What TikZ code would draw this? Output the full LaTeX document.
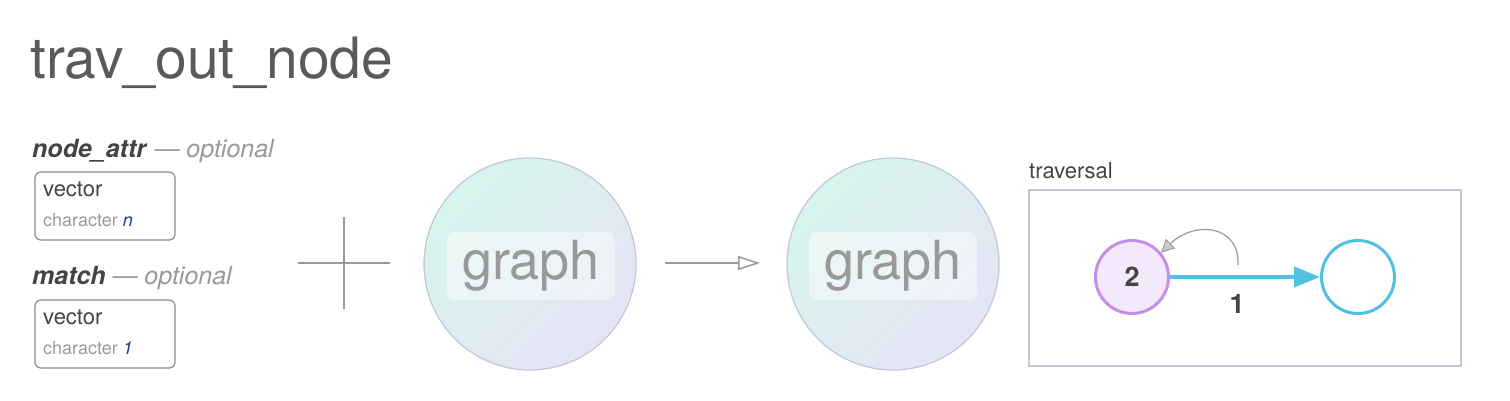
\documentclass[tikz,border=0pt]{standalone}
\usepackage{fontspec}
\setmainfont{TeX Gyre Heros}
\usetikzlibrary{arrows.meta}
\definecolor{titlec}{HTML}{5A5A5A}
\definecolor{darkc}{HTML}{444444}
\definecolor{lightc}{HTML}{999999}
\definecolor{boxc}{HTML}{8A8A8A}
\definecolor{mintc}{HTML}{D6F5EC}
\definecolor{lavc}{HTML}{E5E4F5}
\definecolor{ringc}{HTML}{C3C6D6}
\definecolor{purc}{HTML}{C38FE8}
\definecolor{purfill}{HTML}{F3E9FB}
\definecolor{cyanc}{HTML}{4FC1E2}
\definecolor{bluec}{HTML}{1B3C8C}
\tikzset{
  fs/.style={font=\fontsize{#1}{#1}\selectfont},
  typebox/.style={draw=boxc, line width=1.2pt, rounded corners=6pt, minimum width=140pt, minimum height=68pt},
  bigball/.style={circle, draw=ringc, line width=1.2pt, minimum size=212pt, top color=mintc, bottom color=lavc, shading angle=45},
  glabel/.style={fill=white, fill opacity=0.45, text opacity=1, rounded corners=8pt, minimum width=168pt, minimum height=68pt, text=lightc, fs=54},
  grayline/.style={draw=lightc, line width=1.5pt},
  boldlab/.style={text=darkc, font=\bfseries\fontsize{27}{27}\selectfont},
}
\begin{document}
\begin{tikzpicture}[x=1pt,y=-1pt]
\useasboundingbox (0,0) rectangle (1510,400);
% title
\node[anchor=base west, inner sep=0, text=titlec, fs=57] (title) at (30,78) {trav\_out\_node};
% argument 1
\node[anchor=base west, inner sep=0, fs=25] (arg1) at (32,157) {\textcolor{darkc}{\textbf{\textit{node\_attr}}} \textcolor{lightc}{\textit{--- optional}}};
\node[typebox] (box1) at (105,206) {};
\node[anchor=base west, inner sep=0, fs=22, text=darkc] (v1) at (43,196) {vector};
\node[anchor=base west, inner sep=0, fs=18, text=lightc] (c1) at (43,226) {character \textcolor{bluec}{\textit{n}}};
% argument 2
\node[anchor=base west, inner sep=0, fs=25] (arg2) at (32,284) {\textcolor{darkc}{\textbf{\textit{match}}} \textcolor{lightc}{\textit{--- optional}}};
\node[typebox] (box2) at (105,334) {};
\node[anchor=base west, inner sep=0, fs=22, text=darkc] (v2) at (43,324) {vector};
\node[anchor=base west, inner sep=0, fs=18, text=lightc] (c2) at (43,354) {character \textcolor{bluec}{\textit{1}}};
% plus
\coordinate (pl) at (298,263);
\coordinate (pr) at (390,263);
\coordinate (pt) at (344,217);
\coordinate (pb) at (344,309);
\draw[grayline] (pl) -- (pr);
\draw[grayline] (pt) -- (pb);
% graph balls
\node[bigball] (g1) at (530,264) {};
\node[glabel] (g1l) at (531,266) {graph};
\node[bigball] (g2) at (893,264) {};
\node[glabel] (g2l) at (893,266) {graph};
% arrow
\coordinate (as) at (665,263);
\coordinate (ae) at (760,263);
\draw[grayline, -{Triangle[open, length=22pt, width=14pt, line width=1.5pt]}] (as) -- (ae);
% traversal
\node[anchor=base west, inner sep=0, fs=22, text=darkc] (travlab) at (1029,178) {traversal};
\draw[draw=ringc, line width=1.5pt] (1029,190) rectangle (1461,366);
\node[circle, draw=purc, fill=purfill, line width=3pt, minimum size=73pt, boldlab] (n2) at (1132,277) {2};
\node[circle, draw=cyanc, fill=white, line width=3pt, minimum size=73pt] (n3) at (1358,277) {};
\draw[cyanc, line width=4pt, -{Triangle[length=26pt, width=20pt]}] (n2) -- (n3);
\node[boldlab] (elab) at (1237,304) {1};
\coordinate (loopstart) at (1238,265);
\draw[lightc, line width=1.2pt, -{Triangle[length=13pt, width=13pt, fill=lightc!50, line width=1pt]}] (loopstart) .. controls (1240,225) and (1195,220) .. (n2.40);
\end{tikzpicture}
\end{document}
